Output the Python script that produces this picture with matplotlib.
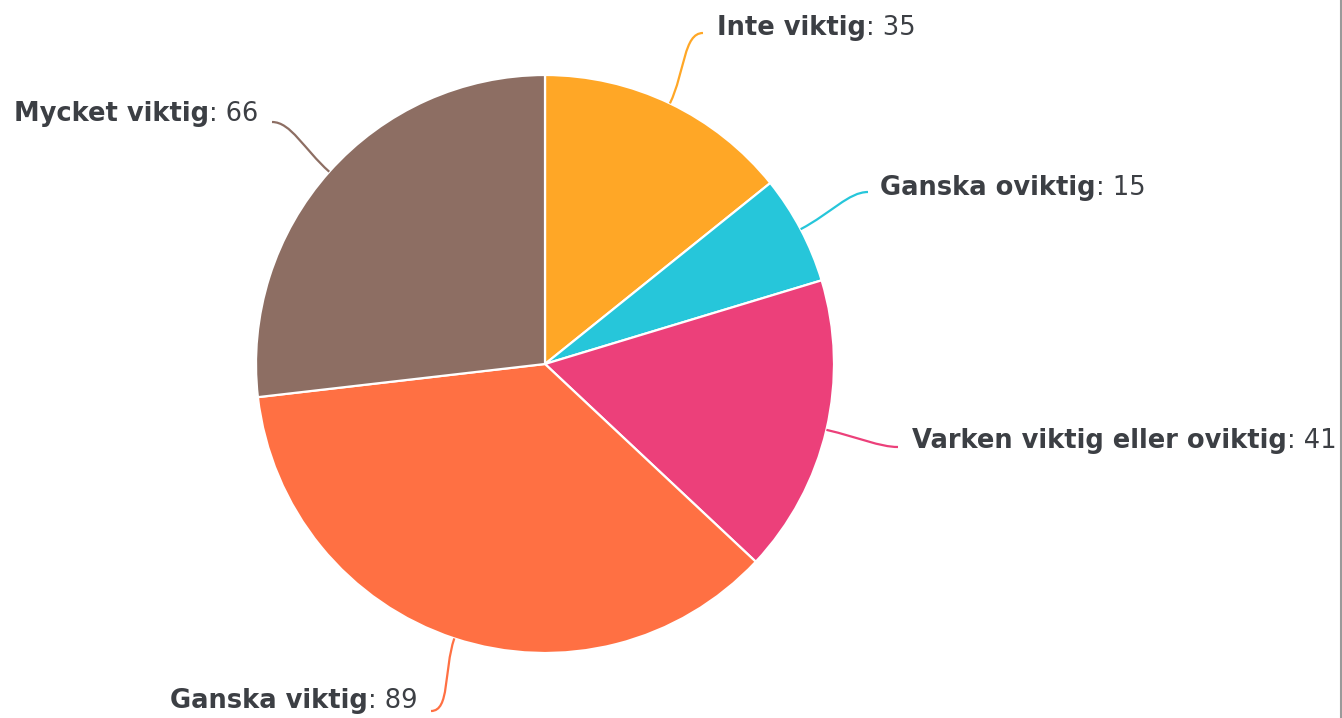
import numpy as np
import matplotlib
matplotlib.use("Agg")
import matplotlib.pyplot as plt
from matplotlib.path import Path
from matplotlib.patches import PathPatch

categories = ["Inte viktig", "Ganska oviktig", "Varken viktig eller oviktig", "Ganska viktig", "Mycket viktig"]
values = [35, 15, 41, 89, 66]
colors = ["#FFA726", "#26C6DA", "#EC407A", "#FF7043", "#8D6E63"]

W, H = 1342, 718
fig = plt.figure(figsize=(W / 100, H / 100), dpi=100)
ax = fig.add_axes([0, 0, 1, 1])
ax.set_xlim(0, W)
ax.set_ylim(0, H)
ax.set_aspect("equal")
ax.axis("off")

cx, cy_top, r = 545, 364, 289
cy = H - cy_top

ax.pie(values, colors=colors, startangle=90, counterclock=False,
       center=(cx, cy), radius=r, frame=True,
       wedgeprops=dict(edgecolor="white", linewidth=1.6))
ax.set_xlim(0, W)
ax.set_ylim(0, H)
ax.axis("off")

# label layout (pixel coords, y from top): connector end point, text anchor, side
layout = [
    ((703, 33), (717, 28), 1),
    ((868, 192), (880, 188), 1),
    ((898, 447), (912, 441), 1),
    ((431, 711), (417, 701), -1),
    ((272, 122), (258, 114), -1),
]

text_color = "#3c3f44"
fs = 18.5
total = sum(values)
cum = 0
for val, col, name, (end, tpos, side) in zip(values, colors, categories, layout):
    mid = (cum + val / 2) / total
    cum += val
    theta = np.deg2rad(90 - mid * 360)
    ux, uy = np.cos(theta), np.sin(theta)
    p0 = (cx + r * ux, cy + r * uy)
    p3 = (end[0], H - end[1])
    d = np.hypot(p3[0] - p0[0], p3[1] - p0[1])
    p1 = (p0[0] + ux * d * 0.45, p0[1] + uy * d * 0.45)
    p2 = (p3[0] - side * d * 0.25, p3[1])
    path = Path([p0, p1, p2, p3], [Path.MOVETO, Path.CURVE4, Path.CURVE4, Path.CURVE4])
    ax.add_patch(PathPatch(path, facecolor="none", edgecolor=col, linewidth=1.6))

    tx, ty = tpos[0], H - tpos[1]
    if side > 0:
        tb = ax.text(tx, ty, name, fontsize=fs, fontweight="bold", color=text_color,
                     ha="left", va="center", family="DejaVu Sans")
        ax.annotate(f": {val}", xy=(1, 0), xycoords=tb, ha="left", va="bottom",
                    fontsize=fs, color=text_color, family="DejaVu Sans")
    else:
        tn = ax.text(tx, ty, f": {val}", fontsize=fs, color=text_color,
                     ha="right", va="center", family="DejaVu Sans")
        ax.annotate(name, xy=(0, 0), xycoords=tn, ha="right", va="bottom",
                    fontsize=fs, fontweight="bold", color=text_color, family="DejaVu Sans")

# right border line
ax.plot([W - 1.5, W - 1.5], [0, H], color="#9a9a9a", linewidth=1.5, solid_capstyle="butt")

fig.savefig("out.png", dpi=100, facecolor="white")
